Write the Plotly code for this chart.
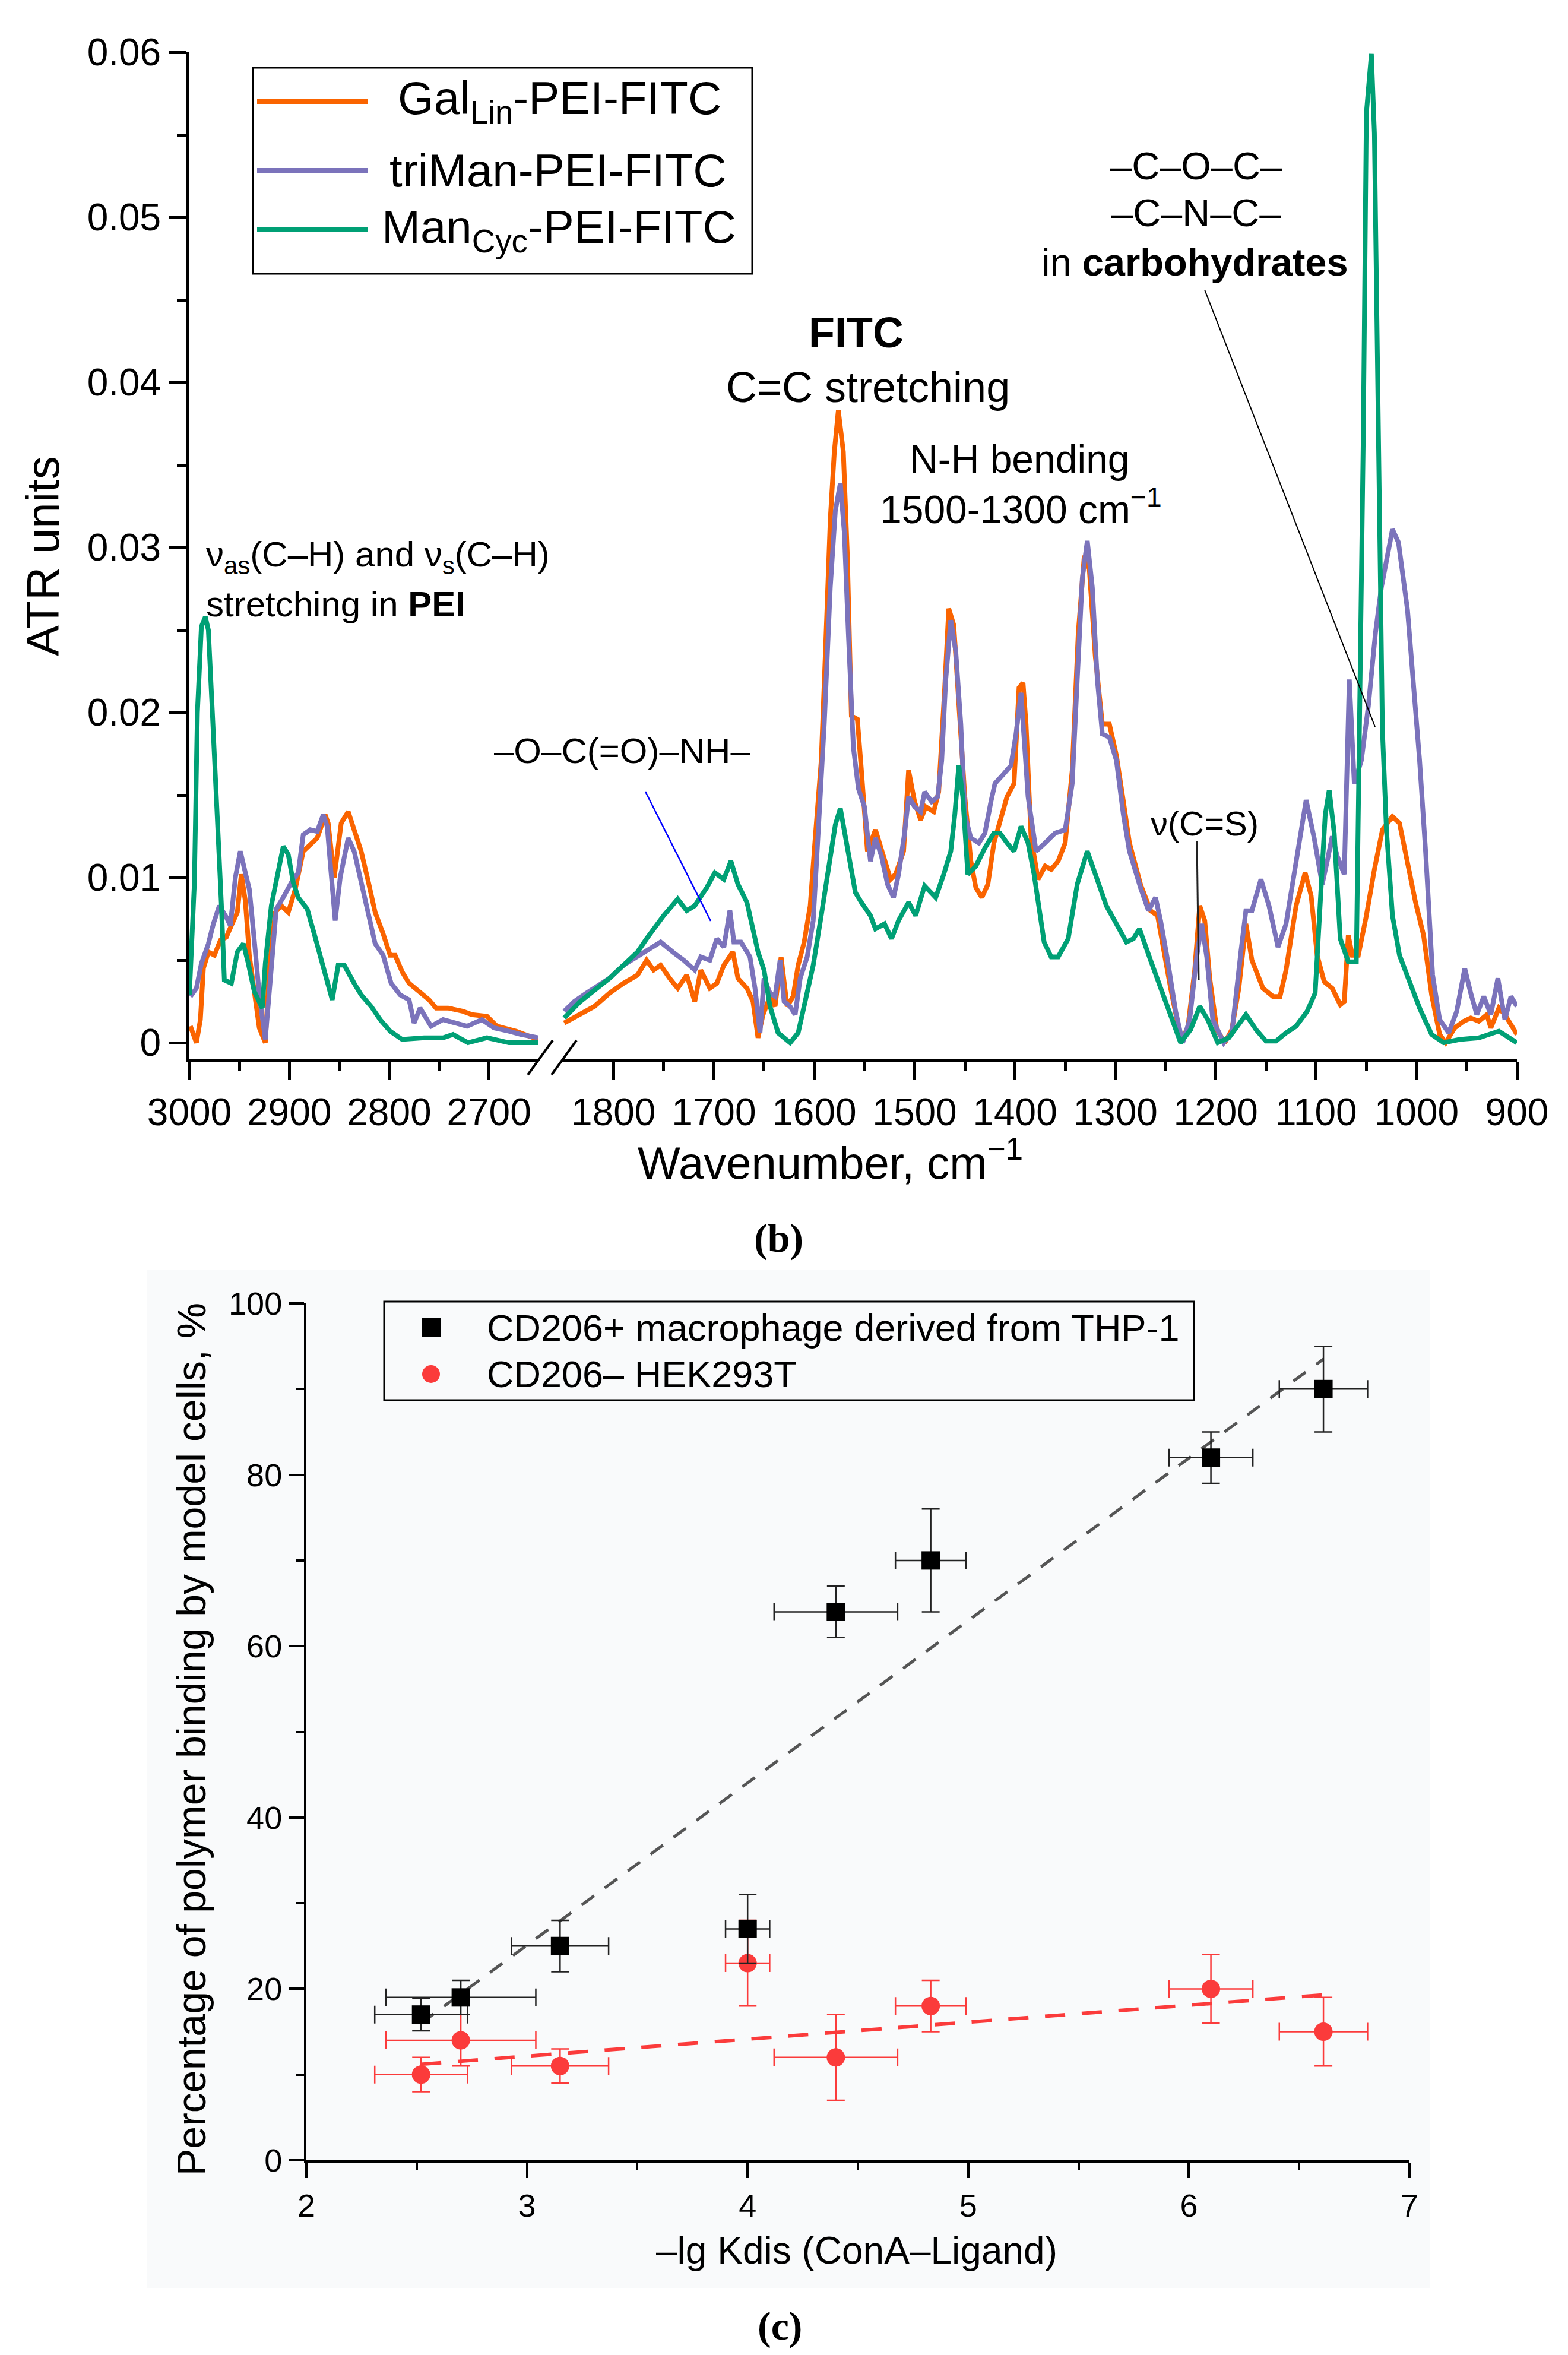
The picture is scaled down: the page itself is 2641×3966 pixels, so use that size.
import plotly.graph_objects as go

W, H = 2641, 3966
FONT = "Liberation Sans, Arial, sans-serif"
SERIF = "Liberation Serif, Times New Roman, serif"

ORANGE = "#fa6400"
PURPLE = "#7b73bb"
GREEN = "#00a075"
RED = "#fb3b3b"

# ---------------- panel (b): ATR spectra ----------------
# high-wavenumber segment (3000-2650 cm-1)
wn_hi_gal = [2999, 2993, 2989, 2986, 2981, 2975, 2969, 2963, 2958, 2952, 2948, 2944, 2940, 2935, 2930, 2924,
             2920, 2914, 2908, 2901, 2894, 2886, 2881, 2872, 2864, 2861, 2855, 2848, 2841, 2835, 2828, 2821,
             2814, 2806, 2799, 2794, 2787, 2780, 2770, 2760, 2753, 2741, 2726, 2717, 2702, 2692, 2673, 2651]
atr_hi_gal = [0.0010, 0.0000, 0.0014, 0.0045, 0.0055, 0.0053, 0.0062, 0.0064, 0.0071, 0.0079, 0.0102, 0.0086,
              0.0053, 0.0031, 0.0009, 0.0000, 0.0045, 0.0079, 0.0083, 0.0079, 0.0093, 0.0116, 0.0119, 0.0124,
              0.0138, 0.0133, 0.0100, 0.0133, 0.0140, 0.0128, 0.0116, 0.0098, 0.0079, 0.0066, 0.0053, 0.0053,
              0.0043, 0.0036, 0.0031, 0.0026, 0.0021, 0.0021, 0.0019, 0.0017, 0.0016, 0.0010, 0.0007, 0.0002]

wn_hi_triman = [2999, 2993, 2988, 2981, 2976, 2970, 2963, 2959, 2954, 2949, 2944, 2940, 2935, 2930, 2924, 2919,
                2913, 2906, 2898, 2891, 2886, 2879, 2872, 2866, 2862, 2858, 2854, 2849, 2841, 2835, 2828, 2821,
                2814, 2806, 2798, 2789, 2780, 2775, 2769, 2758, 2746, 2734, 2722, 2707, 2695, 2680, 2668, 2651]
atr_hi_triman = [0.0028, 0.0033, 0.0048, 0.0060, 0.0072, 0.0083, 0.0076, 0.0071, 0.0100, 0.0116, 0.0103, 0.0093,
                 0.0062, 0.0029, 0.0002, 0.0036, 0.0081, 0.0088, 0.0097, 0.0103, 0.0126, 0.0129, 0.0128, 0.0138,
                 0.0131, 0.0102, 0.0074, 0.0100, 0.0124, 0.0116, 0.0097, 0.0078, 0.0060, 0.0053, 0.0036, 0.0029,
                 0.0026, 0.0012, 0.0021, 0.0010, 0.0014, 0.0012, 0.0010, 0.0014, 0.0009, 0.0007, 0.0005, 0.0003]

wn_hi_mancyc = [3000, 2995, 2992, 2988, 2984, 2981, 2977, 2973, 2971, 2968, 2965, 2958, 2952, 2946, 2941, 2935,
                2927, 2924, 2918, 2910, 2906, 2901, 2896, 2891, 2882, 2875, 2869, 2862, 2857, 2851, 2845, 2835,
                2828, 2818, 2809, 2799, 2787, 2765, 2746, 2736, 2721, 2702, 2680, 2651]
atr_hi_mancyc = [0.0029, 0.0097, 0.0200, 0.0252, 0.0258, 0.0250, 0.0200, 0.0152, 0.0131, 0.0084, 0.0038, 0.0036,
                 0.0055, 0.0060, 0.0048, 0.0031, 0.0021, 0.0048, 0.0083, 0.0109, 0.0119, 0.0114, 0.0097, 0.0088,
                 0.0081, 0.0066, 0.0053, 0.0036, 0.0026, 0.0047, 0.0047, 0.0036, 0.0029, 0.0022, 0.0014, 0.0007,
                 0.0002, 0.0003, 0.0003, 0.0005, 0.0000, 0.0003, 0.0000, 0.0000]

# low-wavenumber segment (1850-900 cm-1)
wn_lo_gal = [1849, 1833, 1819, 1804, 1790, 1776, 1767, 1760, 1753, 1744, 1736, 1727, 1719, 1713, 1704, 1697,
             1690, 1681, 1676, 1667, 1661, 1656, 1651, 1644, 1639, 1633, 1627, 1621, 1616, 1610, 1604, 1599,
             1593, 1589, 1584, 1580, 1576, 1571, 1567, 1563, 1557, 1553, 1547, 1539, 1533, 1524, 1519, 1511,
             1506, 1500, 1494, 1489, 1481, 1476, 1470, 1466, 1461, 1456, 1450, 1444, 1439, 1433, 1427, 1421,
             1415, 1408, 1401, 1396, 1392, 1389, 1384, 1377, 1370, 1364, 1357, 1350, 1343, 1337, 1331, 1326,
             1320, 1313, 1306, 1299, 1292, 1286, 1275, 1265, 1258, 1252, 1245, 1235, 1228, 1221, 1216, 1211,
             1206, 1199, 1191, 1184, 1177, 1170, 1164, 1153, 1143, 1136, 1130, 1120, 1111, 1105, 1099, 1092,
             1084, 1076, 1072, 1068, 1064, 1058, 1050, 1042, 1034, 1024, 1017, 1009, 1001, 993, 985, 977,
             971, 962, 953, 946, 938, 930, 926, 918, 912, 904, 900]
atr_lo_gal = [0.0012, 0.0017, 0.0022, 0.0030, 0.0036, 0.0041, 0.0050, 0.0044, 0.0047, 0.0039, 0.0033, 0.0041,
              0.0025, 0.0044, 0.0033, 0.0036, 0.0047, 0.0055, 0.0039, 0.0033, 0.0025, 0.0003, 0.0017, 0.0028,
              0.0022, 0.0052, 0.0022, 0.0028, 0.0047, 0.0061, 0.0083, 0.0124, 0.0171, 0.0234, 0.0317, 0.0358,
              0.0383, 0.0358, 0.0295, 0.0198, 0.0196, 0.0165, 0.0116, 0.0129, 0.0116, 0.0099, 0.0102, 0.0116,
              0.0165, 0.0146, 0.0135, 0.0143, 0.0140, 0.0152, 0.0215, 0.0263, 0.0253, 0.0209, 0.0149, 0.0110,
              0.0094, 0.0088, 0.0096, 0.0121, 0.0135, 0.0149, 0.0157, 0.0215, 0.0218, 0.0193, 0.0124, 0.0099,
              0.0107, 0.0105, 0.0110, 0.0121, 0.0165, 0.0248, 0.0295, 0.0287, 0.0234, 0.0193, 0.0193, 0.0174,
              0.0146, 0.0121, 0.0096, 0.0080, 0.0077, 0.0055, 0.0033, 0.0003, 0.0008, 0.0044, 0.0083, 0.0074,
              0.0039, 0.0008, 0.0000, 0.0008, 0.0033, 0.0072, 0.0050, 0.0033, 0.0028, 0.0028, 0.0044, 0.0083,
              0.0103, 0.0089, 0.0053, 0.0037, 0.0033, 0.0023, 0.0025, 0.0065, 0.0053, 0.0053, 0.0077, 0.0105,
              0.0129, 0.0137, 0.0133, 0.0109, 0.0085, 0.0065, 0.0029, 0.0005, 0.0000, 0.0009, 0.0013, 0.0015,
              0.0013, 0.0017, 0.0009, 0.0021, 0.0017, 0.0009, 0.0005]

wn_lo_triman = [1849, 1839, 1827, 1804, 1790, 1776, 1761, 1753, 1741, 1730, 1719, 1713, 1704, 1697, 1690, 1684,
                1680, 1673, 1664, 1659, 1654, 1650, 1644, 1639, 1634, 1630, 1624, 1619, 1614, 1607, 1601, 1596,
                1590, 1584, 1579, 1574, 1570, 1566, 1561, 1556, 1550, 1544, 1539, 1533, 1527, 1521, 1516, 1510,
                1506, 1500, 1494, 1490, 1483, 1477, 1473, 1469, 1464, 1459, 1454, 1450, 1444, 1436, 1430, 1424,
                1420, 1411, 1404, 1399, 1394, 1387, 1379, 1370, 1360, 1350, 1343, 1338, 1333, 1328, 1323, 1318,
                1313, 1306, 1299, 1292, 1286, 1275, 1267, 1260, 1255, 1248, 1240, 1233, 1226, 1219, 1214, 1209,
                1203, 1192, 1184, 1175, 1170, 1164, 1155, 1147, 1138, 1130, 1120, 1110, 1102, 1094, 1089, 1084,
                1079, 1072, 1067, 1062, 1055, 1048, 1041, 1035, 1024, 1018, 1009, 1004, 997, 991, 984, 977,
                968, 960, 952, 946, 940, 933, 926, 919, 912, 906, 900]
atr_lo_triman = [0.0019, 0.0025, 0.0030, 0.0039, 0.0047, 0.0052, 0.0058, 0.0061, 0.0055, 0.0050, 0.0044, 0.0052,
                 0.0050, 0.0063, 0.0058, 0.0080, 0.0061, 0.0061, 0.0052, 0.0033, 0.0006, 0.0039, 0.0030, 0.0028,
                 0.0050, 0.0025, 0.0022, 0.0017, 0.0039, 0.0052, 0.0074, 0.0124, 0.0193, 0.0276, 0.0322, 0.0339,
                 0.0309, 0.0248, 0.0179, 0.0154, 0.0143, 0.0110, 0.0124, 0.0113, 0.0096, 0.0088, 0.0102, 0.0127,
                 0.0149, 0.0143, 0.0140, 0.0152, 0.0146, 0.0149, 0.0171, 0.0220, 0.0256, 0.0237, 0.0193, 0.0138,
                 0.0124, 0.0121, 0.0127, 0.0146, 0.0157, 0.0163, 0.0168, 0.0187, 0.0212, 0.0149, 0.0116, 0.0121,
                 0.0127, 0.0129, 0.0157, 0.0220, 0.0281, 0.0304, 0.0276, 0.0220, 0.0187, 0.0185, 0.0171, 0.0138,
                 0.0116, 0.0094, 0.0080, 0.0088, 0.0074, 0.0050, 0.0019, 0.0000, 0.0014, 0.0052, 0.0072, 0.0052,
                 0.0014, 0.0000, 0.0006, 0.0055, 0.0080, 0.0080, 0.0099, 0.0083, 0.0058, 0.0072, 0.0110, 0.0147,
                 0.0124, 0.0096, 0.0110, 0.0125, 0.0113, 0.0102, 0.0220, 0.0157, 0.0171, 0.0204, 0.0248, 0.0276,
                 0.0311, 0.0303, 0.0262, 0.0226, 0.0171, 0.0116, 0.0041, 0.0014, 0.0006, 0.0019, 0.0045, 0.0030,
                 0.0017, 0.0028, 0.0017, 0.0039, 0.0014, 0.0028, 0.0022]

wn_lo_mancyc = [1849, 1833, 1804, 1790, 1776, 1767, 1750, 1736, 1727, 1719, 1707, 1699, 1690, 1683, 1676, 1667,
                1661, 1656, 1650, 1644, 1636, 1624, 1616, 1610, 1601, 1593, 1584, 1579, 1574, 1570, 1564, 1559,
                1553, 1544, 1539, 1530, 1523, 1516, 1506, 1499, 1490, 1479, 1471, 1464, 1460, 1456, 1452, 1447,
                1439, 1430, 1421, 1415, 1408, 1401, 1394, 1387, 1381, 1371, 1364, 1357, 1347, 1338, 1328, 1320,
                1309, 1299, 1289, 1282, 1276, 1265, 1255, 1245, 1235, 1225, 1216, 1208, 1198, 1187, 1177, 1170,
                1160, 1150, 1140, 1130, 1120, 1109, 1101, 1096, 1091, 1087, 1082, 1076, 1068, 1060, 1056, 1053,
                1050, 1045, 1042, 1040, 1037, 1034, 1030, 1024, 1017, 1007, 997, 985, 973, 957, 938, 918, 900]
atr_lo_mancyc = [0.0015, 0.0025, 0.0039, 0.0047, 0.0055, 0.0063, 0.0077, 0.0087, 0.0080, 0.0083, 0.0094, 0.0103,
                 0.0099, 0.0110, 0.0096, 0.0085, 0.0069, 0.0055, 0.0044, 0.0022, 0.0006, 0.0000, 0.0006, 0.0022,
                 0.0047, 0.0077, 0.0110, 0.0132, 0.0142, 0.0129, 0.0110, 0.0091, 0.0085, 0.0077, 0.0069, 0.0072,
                 0.0063, 0.0074, 0.0085, 0.0077, 0.0095, 0.0088, 0.0102, 0.0116, 0.0138, 0.0168, 0.0149, 0.0102,
                 0.0107, 0.0118, 0.0127, 0.0127, 0.0121, 0.0116, 0.0131, 0.0121, 0.0102, 0.0061, 0.0052, 0.0052,
                 0.0063, 0.0096, 0.0116, 0.0102, 0.0083, 0.0072, 0.0061, 0.0063, 0.0069, 0.0050, 0.0033, 0.0017,
                 0.0000, 0.0008, 0.0022, 0.0014, 0.0000, 0.0003, 0.0011, 0.0017, 0.0008, 0.0001, 0.0001, 0.0006,
                 0.0010, 0.0019, 0.0030, 0.0083, 0.0138, 0.0153, 0.0127, 0.0063, 0.0049, 0.0049, 0.0210, 0.0370,
                 0.0563, 0.0599, 0.0551, 0.0451, 0.0290, 0.0189, 0.0129, 0.0077, 0.0053, 0.0037, 0.0021, 0.0005,
                 0.0000, 0.0002, 0.0003, 0.0007, 0.0000]

spectra_names = ["Gal<sub>Lin</sub>-PEI-FITC", "triMan-PEI-FITC", "Man<sub>Cyc</sub>-PEI-FITC"]

atr_ticks = [0, 0.01, 0.02, 0.03, 0.04, 0.05, 0.06]
atr_ticktext = ["0", "0.01", "0.02", "0.03", "0.04", "0.05", "0.06"]
wn_hi_ticks = [3000, 2900, 2800, 2700]
wn_lo_ticks = [1800, 1700, 1600, 1500, 1400, 1300, 1200, 1100, 1000, 900]

# ---------------- panel (c): binding vs affinity ----------------
lg_kdis = [2.52, 2.70, 3.15, 4.00, 4.40, 4.83, 6.10, 6.61]
lg_kdis_err = [0.21, 0.34, 0.22, 0.10, 0.28, 0.16, 0.19, 0.20]
bind_thp1 = [17, 19, 25, 27, 64, 70, 82, 90]
bind_thp1_err = [1.9, 2, 3, 4, 3, 6, 3, 5]
bind_hek = [10, 14, 11, 23, 12, 18, 20, 15]
bind_hek_err = [2, 3, 2, 5, 5, 3, 4, 4]
fit_x = [2.52, 6.61]
fit_thp1 = [16.0, 93.5]
fit_hek = [11.2, 19.3]
cell_names = ["CD206+ macrophage derived from THP-1", "CD206\u2013 HEK293T"]


def fx(p):
    return p / W


def fy(p):
    return 1 - p / H


fig = go.Figure()

# spectra: orange first, then purple, green on top
for xs, ys, xl, yl, c in [(wn_hi_gal, atr_hi_gal, wn_lo_gal, atr_lo_gal, ORANGE),
                          (wn_hi_triman, atr_hi_triman, wn_lo_triman, atr_lo_triman, PURPLE),
                          (wn_hi_mancyc, atr_hi_mancyc, wn_lo_mancyc, atr_lo_mancyc, GREEN)]:
    fig.add_trace(go.Scatter(x=xs, y=ys, xaxis="x", yaxis="y", mode="lines",
                             line=dict(color=c, width=8), showlegend=False))
    fig.add_trace(go.Scatter(x=xl, y=yl, xaxis="x2", yaxis="y", mode="lines",
                             line=dict(color=c, width=8), showlegend=False))

# fits
fig.add_trace(go.Scatter(x=fit_x, y=fit_hek, xaxis="x3", yaxis="y2", mode="lines",
                         line=dict(color=RED, width=6, dash="34px,28px"), showlegend=False))
fig.add_trace(go.Scatter(x=fit_x, y=fit_thp1, xaxis="x3", yaxis="y2", mode="lines",
                         line=dict(color="#555555", width=5, dash="26px,22px"), showlegend=False))
# points
fig.add_trace(go.Scatter(x=lg_kdis, y=bind_hek, xaxis="x3", yaxis="y2", mode="markers",
                         marker=dict(symbol="circle", size=31, color=RED),
                         error_x=dict(type="data", array=lg_kdis_err, color=RED, thickness=2.5, width=15),
                         error_y=dict(type="data", array=bind_hek_err, color=RED, thickness=2.5, width=15),
                         showlegend=False))
fig.add_trace(go.Scatter(x=lg_kdis, y=bind_thp1, xaxis="x3", yaxis="y2", mode="markers",
                         marker=dict(symbol="square", size=31, color="black"),
                         error_x=dict(type="data", array=lg_kdis_err, color="#222222", thickness=2.5, width=15),
                         error_y=dict(type="data", array=bind_thp1_err, color="#222222", thickness=2.5, width=15),
                         showlegend=False))

tick_font_top = dict(family=FONT, size=64, color="black")
tick_font_bot = dict(family=FONT, size=54, color="black")
ax_top = dict(showline=True, linecolor="black", linewidth=5, ticks="outside", ticklen=30, tickwidth=5,
              tickcolor="black", showgrid=False, zeroline=False, automargin=False, tickfont=tick_font_top)
ax_bot = dict(showline=True, linecolor="black", linewidth=4, ticks="outside", ticklen=26, tickwidth=4,
              tickcolor="black", showgrid=False, zeroline=False, automargin=False, tickfont=tick_font_bot)

fig.update_layout(
    width=W, height=H, autosize=False, template="none",
    margin=dict(l=0, r=0, t=0, b=0, pad=0),
    paper_bgcolor="white", plot_bgcolor="rgba(0,0,0,0)",
    showlegend=False,
    xaxis=dict(ax_top, domain=[fx(311), fx(898)], range=[3000, 2651], anchor="y",
               tickvals=wn_hi_ticks, ticktext=[str(v) for v in wn_hi_ticks],
               minor=dict(ticks="outside", ticklen=16, tickwidth=5, tickcolor="black",
                          tickvals=[2950, 2850, 2750, 2650])),
    xaxis2=dict(ax_top, domain=[fx(939), fx(2547)], range=[1851, 900], anchor="y",
                tickvals=wn_lo_ticks, ticktext=[str(v) for v in wn_lo_ticks],
                minor=dict(ticks="outside", ticklen=16, tickwidth=5, tickcolor="black",
                           tickvals=[1750, 1650, 1550, 1450, 1350, 1250, 1150, 1050, 950])),
    yaxis=dict(ax_top, domain=[fy(1775), fy(80)], range=[-0.00097, 0.06], anchor="x",
               tickvals=atr_ticks, ticktext=atr_ticktext,
               minor=dict(ticks="outside", ticklen=16, tickwidth=5, tickcolor="black",
                          tickvals=[0.005, 0.015, 0.025, 0.035, 0.045, 0.055])),
    xaxis3=dict(ax_bot, domain=[fx(508), fx(2366)], range=[2, 7], anchor="y2",
                tickvals=[2, 3, 4, 5, 6, 7],
                minor=dict(ticks="outside", ticklen=13, tickwidth=4, tickcolor="black",
                           tickvals=[2.5, 3.5, 4.5, 5.5, 6.5])),
    yaxis2=dict(ax_bot, domain=[fy(3630), fy(2187)], range=[0, 100], anchor="x3",
                tickvals=[0, 20, 40, 60, 80, 100],
                minor=dict(ticks="outside", ticklen=13, tickwidth=4, tickcolor="black",
                           tickvals=[10, 30, 50, 70, 90])),
)

shapes = []
# faint background of panel (c)
shapes.append(dict(type="rect", xref="paper", yref="paper", x0=fx(240), x1=fx(2400), y0=fy(3845), y1=fy(2130),
                   fillcolor="#f9fafb", line=dict(width=0), layer="below"))
# axis break marks
for x0 in (881, 921):
    shapes.append(dict(type="line", xref="paper", yref="paper", x0=fx(x0), y0=fy(1802), x1=fx(x0 + 42),
                       y1=fy(1744), line=dict(color="black", width=4)))
# leader lines
shapes.append(dict(type="line", xref="paper", yref="paper", x0=fx(2021), y0=fy(480), x1=fx(2308), y1=fy(1216),
                   line=dict(color="black", width=2)))
shapes.append(dict(type="line", xref="paper", yref="paper", x0=fx(1079), y0=fy(1325), x1=fx(1189), y1=fy(1543),
                   line=dict(color="#0000ff", width=2.5)))
shapes.append(dict(type="line", xref="paper", yref="paper", x0=fx(2008), y0=fy(1409), x1=fx(2011), y1=fy(1642),
                   line=dict(color="#222222", width=3)))
# legend of panel (b)
shapes.append(dict(type="rect", xref="paper", yref="paper", x0=fx(418), x1=fx(1259), y0=fy(453), y1=fy(106),
                   line=dict(color="black", width=3), fillcolor="rgba(0,0,0,0)"))
for yy, c in zip((163, 279, 379), (ORANGE, PURPLE, GREEN)):
    shapes.append(dict(type="line", xref="paper", yref="paper", x0=fx(425), x1=fx(612), y0=fy(yy), y1=fy(yy),
                       line=dict(color=c, width=8)))
# legend of panel (c)
shapes.append(dict(type="rect", xref="paper", yref="paper", x0=fx(639), x1=fx(2003), y0=fy(2350), y1=fy(2184),
                   line=dict(color="black", width=3), fillcolor="rgba(0,0,0,0)"))
shapes.append(dict(type="rect", xref="paper", yref="paper", x0=fx(702), x1=fx(734), y0=fy(2244), y1=fy(2212),
                   line=dict(width=0), fillcolor="black"))
shapes.append(dict(type="circle", xref="paper", yref="paper", x0=fx(703), x1=fx(733), y0=fy(2321), y1=fy(2291),
                   line=dict(width=0), fillcolor=RED))
fig.update_layout(shapes=shapes)


def note(text, x, y, size, xanchor="center", family=FONT, angle=0):
    fig.add_annotation(text=text, x=fx(x), y=fy(y), xref="paper", yref="paper", showarrow=False,
                       xanchor=xanchor, yanchor="middle", textangle=angle,
                       font=dict(family=family, size=size, color="black"))


note("\u03bd<sub>as</sub>(C\u2013H) and \u03bd<sub>s</sub>(C\u2013H)", 337, 930, 60, "left")
note("stretching in <b>PEI</b>", 337, 1009, 60, "left")
note("<b>FITC</b>", 1434, 552, 72)
note("C=C stretching", 1454, 644, 72)
note("N-H bending", 1709, 765, 66)
note("1500-1300 cm<sup>\u22121</sup>", 1711, 845, 66)
note("\u2013C\u2013O\u2013C\u2013", 2007, 271, 65)
note("\u2013C\u2013N\u2013C\u2013", 2007, 351, 65)
note("in <b>carbohydrates</b>", 2004, 434, 65)
note("\u2013O\u2013C(=O)\u2013NH\u2013", 1040, 1256, 60)
note("\u03bd(C=S)", 2021, 1378, 58)
note("Wavenumber, cm<sup>\u22121</sup>", 1390, 1945, 76)
note("ATR units", 64, 929, 78, angle=-90)
note("<b>(b)</b>", 1303, 2077, 68, family=SERIF)
for t, yy, xx in zip(spectra_names, (163, 279, 379), (660, 646, 633)):
    note(t, xx, yy, 78, "left")

note("Percentage of polymer binding by model cells, %", 314, 2921, 68, angle=-90)
note("\u2013lg Kdis (ConA\u2013Ligand)", 1435, 3782, 64)
note("<b>(c)</b>", 1305, 3909, 68, family=SERIF)
for t, yy in zip(cell_names, (2228, 2306)):
    note(t, 810, yy, 63, "left")

fig.write_html("out.html")
